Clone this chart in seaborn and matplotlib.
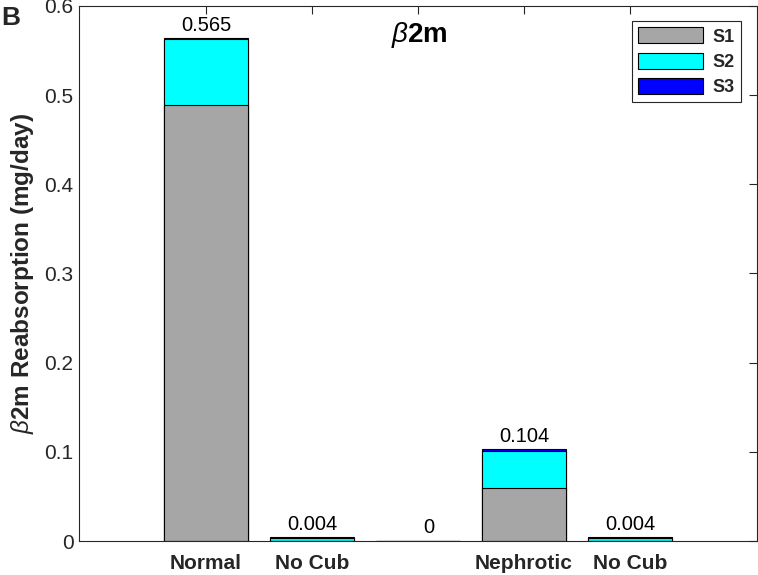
import matplotlib
matplotlib.use("Agg")
import matplotlib.pyplot as plt
import pandas as pd
import seaborn as sns
from matplotlib.patches import Patch

# values (mg/day)
groups = ["Normal", "Normal No Cub", "Gap", "Nephrotic", "Nephrotic No Cub"]
tick_labels = ["Normal", "No Cub", "", "Nephrotic", "No Cub"]
s1 = [0.489, 0.0003, 0.0, 0.060, 0.0003]
s2 = [0.0735, 0.0035, 0.0, 0.0415, 0.0035]
s3 = [0.0015, 0.0002, 0.0, 0.0015, 0.0002]
totals_text = ["0.565", "0.004", "0", "0.104", "0.004"]

series_names = ["S1", "S2", "S3"]
colors = {"S1": "#a6a6a6", "S2": "#00ffff", "S3": "#0000ff"}
AX_COLOR = "#262626"


def setup_style():
    sns.set_theme(style="white")
    plt.rcParams["font.family"] = ["Liberation Sans", "DejaVu Sans"]
    plt.rcParams["mathtext.fontset"] = "custom"
    plt.rcParams["mathtext.it"] = "Liberation Sans:italic"
    plt.rcParams["mathtext.rm"] = "Liberation Sans"
    plt.rcParams["mathtext.bf"] = "Liberation Sans:bold"


def main():
    setup_style()
    df = pd.DataFrame({"group": groups, "S1": s1, "S2": s2, "S3": s3})
    df["cum1"] = df["S1"]
    df["cum2"] = df["S1"] + df["S2"]
    df["cum3"] = df["S1"] + df["S2"] + df["S3"]

    fig = plt.figure(figsize=(7.58, 5.75), dpi=100)
    ax = fig.add_axes([0.1042, 0.0591, 0.8945, 0.9305])

    # stacked bars: draw cumulative totals back to front
    for col, name in [("cum3", "S3"), ("cum2", "S2"), ("cum1", "S1")]:
        sns.barplot(data=df, x="group", y=col, order=groups, color=colors[name],
                    saturation=1, width=0.8, edgecolor="black", linewidth=0.8,
                    ax=ax, errorbar=None)

    for i, (total, txt) in enumerate(zip(df["cum3"], totals_text)):
        dx = 0.1 if txt == "0" else 0.0
        ax.text(i + dx, total + 0.004, txt, ha="center", va="bottom",
                fontsize=14.5, color="black")

    ax.set_xlim(-1.2, 5.2)
    ax.set_ylim(0, 0.6)
    ax.set_yticks([0, 0.1, 0.2, 0.3, 0.4, 0.5, 0.6])
    ax.set_yticklabels(["0", "0.1", "0.2", "0.3", "0.4", "0.5", "0.6"])
    ax.set_xticks(range(len(groups)))
    ax.set_xticklabels(tick_labels, fontweight="bold")
    ax.set_xlabel("")
    ax.set_ylabel(r"$\beta$2m Reabsorption (mg/day)", fontsize=17.5,
                  fontweight="bold", color=AX_COLOR, labelpad=6)

    ax.tick_params(direction="in", length=6, width=0.8, colors=AX_COLOR,
                   labelsize=15, top=True, right=True)
    ax.tick_params(axis="y", pad=4)
    ax.tick_params(axis="x", pad=9)
    for sp in ax.spines.values():
        sp.set_visible(True)
        sp.set_color(AX_COLOR)
        sp.set_linewidth(0.8)

    ax.text(0.502, 0.946, r"$\beta$2m", transform=ax.transAxes, ha="center",
            va="center", fontsize=20, fontweight="bold", color="black")

    handles = [Patch(facecolor=colors[n], edgecolor="black", linewidth=0.8, label=n)
               for n in series_names]
    leg = ax.legend(handles=handles, loc="upper right", bbox_to_anchor=(0.976, 0.972),
                    frameon=True, fancybox=False, framealpha=1, edgecolor=AX_COLOR,
                    prop={"weight": "bold", "size": 13}, handlelength=3.6,
                    handleheight=1.0, handletextpad=0.5, labelspacing=0.39,
                    borderpad=0.35, borderaxespad=0)
    leg.get_frame().set_linewidth(0.8)

    fig.text(0.002, 0.99, "B", ha="left", va="top", fontsize=19, fontweight="bold")

    fig.savefig("out.png", dpi=100)
    plt.close(fig)


if __name__ == "__main__":
    main()
